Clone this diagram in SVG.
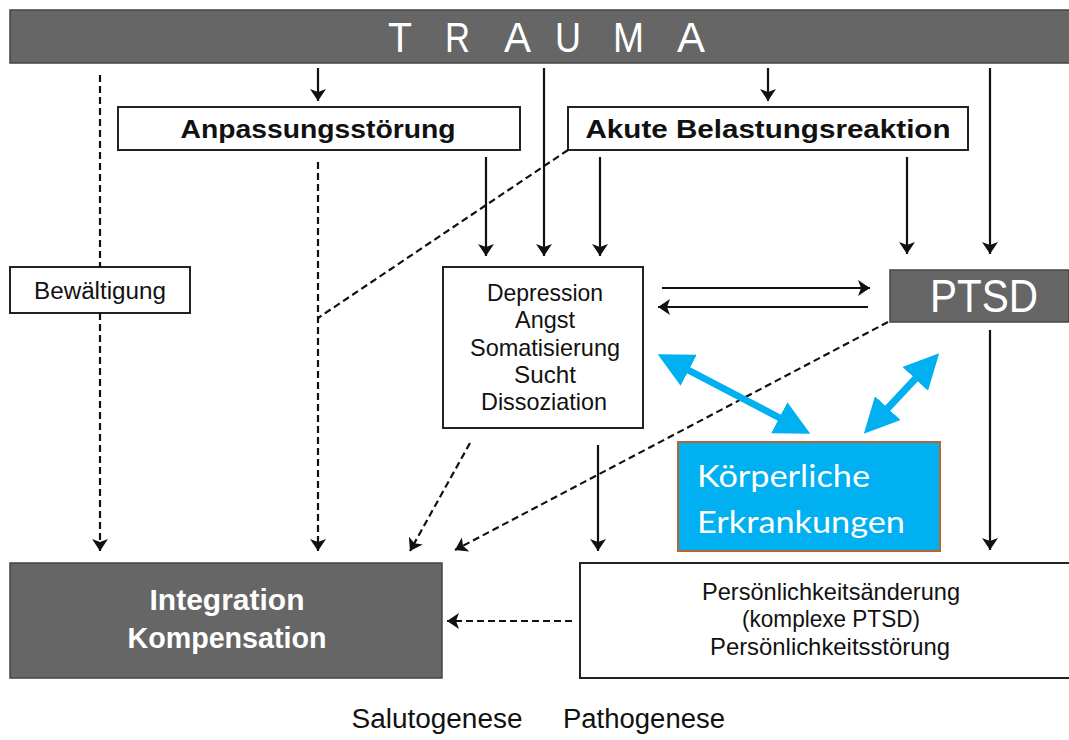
<svg xmlns="http://www.w3.org/2000/svg" width="1069" height="740" viewBox="0 0 1069 740">
<style>
.box{fill:#fff;stroke:#222;stroke-width:2}
.dark{fill:#666;stroke:#444;stroke-width:1.5}
.t{font-family:"Liberation Sans",Arial,sans-serif;fill:#111;text-anchor:middle}
.b{font-weight:bold}
.w{fill:#fff}
.tr{font-family:"Liberation Sans",Arial,sans-serif;fill:#fff;font-size:42px}
.sol{stroke:#111;stroke-width:2.2;fill:none}
.dsh{stroke:#111;stroke-width:2.2;fill:none;stroke-dasharray:7,4}
.blue{stroke:#00b0f0;stroke-width:7;fill:none}
</style>
<defs>
<marker id="ah" viewBox="0 0 12 16" refX="12" refY="8" markerWidth="12" markerHeight="16" markerUnits="userSpaceOnUse" orient="auto">
<path d="M0,0 L12,8 L0,16 L3,8 Z" fill="#111"/>
</marker>
<marker id="bh" viewBox="0 0 10 10" refX="7" refY="5" markerWidth="5" markerHeight="5" orient="auto-start-reverse">
<path d="M0,0 L10,5 L0,10 Z" fill="#00b0f0"/>
</marker>
</defs>

<g id="trauma">
<rect x="10" y="10" width="1069" height="53" class="dark"/>
<text class="tr" x="388" y="52" textLength="24" lengthAdjust="spacingAndGlyphs">T</text>
<text class="tr" x="445" y="52" textLength="25" lengthAdjust="spacingAndGlyphs">R</text>
<text class="tr" x="504" y="52" textLength="27" lengthAdjust="spacingAndGlyphs">A</text>
<text class="tr" x="555" y="52" textLength="26" lengthAdjust="spacingAndGlyphs">U</text>
<text class="tr" x="613" y="52" textLength="31" lengthAdjust="spacingAndGlyphs">M</text>
<text class="tr" x="677" y="52" textLength="28" lengthAdjust="spacingAndGlyphs">A</text>
</g>
<g id="anpassung">
<rect x="118" y="107" width="402" height="43" class="box"/>
<text class="t b" x="318" y="138" font-size="26" textLength="275" lengthAdjust="spacingAndGlyphs">Anpassungsstörung</text>
</g>
<g id="akute">
<rect x="568" y="107" width="400" height="43" class="box"/>
<text class="t b" x="768" y="138" font-size="26" textLength="365" lengthAdjust="spacingAndGlyphs">Akute Belastungsreaktion</text>
</g>
<g id="bewaeltigung">
<rect x="10" y="267" width="180" height="46" class="box" stroke-width="1.5"/>
<text class="t" x="100" y="299" font-size="23" textLength="132" lengthAdjust="spacingAndGlyphs">Bewältigung</text>
</g>
<g id="depression">
<rect x="443" y="267" width="200" height="161" class="box" stroke-width="1.5"/>
<text class="t" x="545" y="301" font-size="24" textLength="116" lengthAdjust="spacingAndGlyphs">Depression</text>
<text class="t" x="545" y="328" font-size="24" textLength="60" lengthAdjust="spacingAndGlyphs">Angst</text>
<text class="t" x="545" y="356" font-size="24" textLength="150" lengthAdjust="spacingAndGlyphs">Somatisierung</text>
<text class="t" x="545" y="383" font-size="24" textLength="62" lengthAdjust="spacingAndGlyphs">Sucht</text>
<text class="t" x="544" y="410" font-size="24" textLength="126" lengthAdjust="spacingAndGlyphs">Dissoziation</text>
</g>
<g id="ptsd">
<rect x="890" y="270" width="179" height="52" class="dark"/>
<text class="t w" x="984" y="312" font-size="47" textLength="108" lengthAdjust="spacingAndGlyphs">PTSD</text>
</g>
<g id="koerper">
<rect x="678" y="442" width="262" height="109" fill="#00b0f0" stroke="#b5652e" stroke-width="2"/>
<text x="697" y="487" font-family="Lato,'Open Sans',sans-serif" font-size="31" fill="#fff" textLength="173" lengthAdjust="spacingAndGlyphs">Körperliche</text>
<text x="697" y="533" font-family="Lato,'Open Sans',sans-serif" font-size="31" fill="#fff" textLength="208" lengthAdjust="spacingAndGlyphs">Erkrankungen</text>
</g>
<g id="integration">
<rect x="10" y="563" width="432" height="115" class="dark"/>
<text class="t b w" x="227" y="610" font-size="29" textLength="155" lengthAdjust="spacingAndGlyphs">Integration</text>
<text class="t b w" x="227" y="648" font-size="29" textLength="199" lengthAdjust="spacingAndGlyphs">Kompensation</text>
</g>
<g id="persoenlichkeit">
<rect x="580" y="563" width="500" height="115" class="box" stroke-width="1.5"/>
<text class="t" x="831" y="600" font-size="24" textLength="258" lengthAdjust="spacingAndGlyphs">Persönlichkeitsänderung</text>
<text class="t" x="831" y="627" font-size="24" textLength="178" lengthAdjust="spacingAndGlyphs">(komplexe PTSD)</text>
<text class="t" x="830" y="655" font-size="24" textLength="240" lengthAdjust="spacingAndGlyphs">Persönlichkeitsstörung</text>
</g>
<g id="labels">
<text class="t" x="437" y="728" font-size="27" textLength="171" lengthAdjust="spacingAndGlyphs">Salutogenese</text>
<text class="t" x="644" y="728" font-size="27" textLength="162" lengthAdjust="spacingAndGlyphs">Pathogenese</text>
</g>

<g id="connectors">
<line x1="318" y1="68" x2="318" y2="101" class="sol" marker-end="url(#ah)"/>
<line x1="768" y1="68" x2="768" y2="101" class="sol" marker-end="url(#ah)"/>
<line x1="544" y1="68" x2="544" y2="256" class="sol" marker-end="url(#ah)"/>
<line x1="990" y1="68" x2="990" y2="254" class="sol" marker-end="url(#ah)"/>
<line x1="100" y1="75" x2="100" y2="267" class="dsh"/>
<line x1="100" y1="313" x2="100" y2="551" class="dsh" marker-end="url(#ah)"/>
<line x1="318" y1="162" x2="318" y2="551" class="dsh" marker-end="url(#ah)"/>
<line x1="568" y1="150" x2="318" y2="318" class="dsh"/>
<line x1="486" y1="157" x2="486" y2="256" class="sol" marker-end="url(#ah)"/>
<line x1="600" y1="157" x2="600" y2="256" class="sol" marker-end="url(#ah)"/>
<line x1="907" y1="157" x2="907" y2="254" class="sol" marker-end="url(#ah)"/>
<line x1="662" y1="288" x2="870" y2="288" class="sol" marker-end="url(#ah)"/>
<line x1="868" y1="307" x2="658" y2="307" class="sol" marker-end="url(#ah)"/>
<line x1="990" y1="330" x2="990" y2="550" class="sol" marker-end="url(#ah)"/>
<line x1="888" y1="322" x2="455" y2="550" class="dsh" marker-end="url(#ah)"/>
<line x1="470" y1="443" x2="410" y2="551" class="dsh" marker-end="url(#ah)"/>
<line x1="598" y1="445" x2="598" y2="551" class="sol" marker-end="url(#ah)"/>
<line x1="572" y1="621" x2="447" y2="621" class="dsh" marker-end="url(#ah)"/>
<line x1="667" y1="359" x2="801" y2="429" class="blue" marker-start="url(#bh)" marker-end="url(#bh)"/>
<line x1="932" y1="361" x2="871" y2="426" class="blue" marker-start="url(#bh)" marker-end="url(#bh)"/>
</g>
</svg>
